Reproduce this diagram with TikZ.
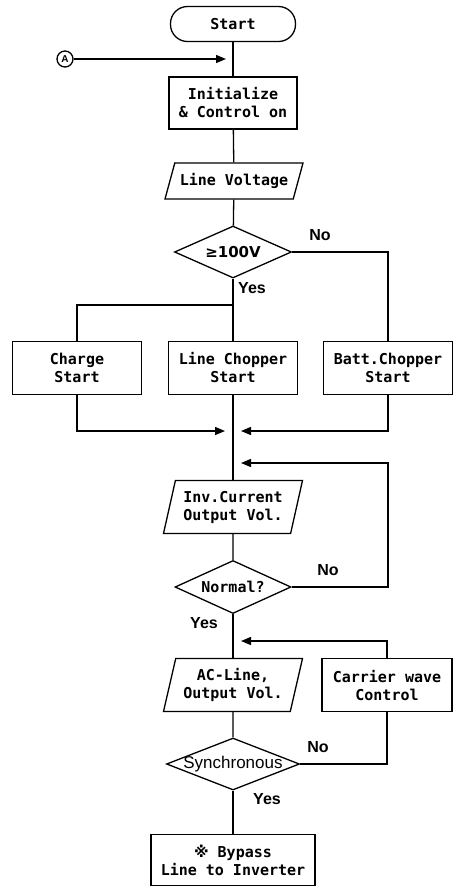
\documentclass[tikz,border=0pt]{standalone}
\usepackage{fontspec}
\setmainfont{DejaVu Sans Mono}
\newfontfamily\labelfont{Liberation Sans}
\newfontfamily\symbolfont{DejaVu Sans}
\usetikzlibrary{shapes.geometric, arrows.meta, calc}

\begin{document}
\begin{tikzpicture}[
    x=1pt, y=-1pt,
    font=\fontsize{15}{18}\selectfont\bfseries,
    line width=1.3pt,
    process/.style={draw, rectangle, minimum height=53pt, minimum width=129pt, align=center, inner sep=2pt},
    terminal/.style={draw, rectangle, rounded corners=17pt, minimum height=35pt, minimum width=125pt},
    io/.style={draw, trapezium, trapezium left angle=73, trapezium right angle=107, trapezium stretches body, minimum height=53pt, minimum width=139pt, inner xsep=0pt, align=center},
    decision/.style={draw, diamond, inner sep=0pt, minimum width=117pt, minimum height=52pt},
    yesno/.style={font=\labelfont\fontsize{16}{16}\selectfont\bfseries},
    arrow/.style={-{Triangle[length=10pt,width=8pt]}}
]
\useasboundingbox (0,0) rectangle (456,887);

% Nodes
\node (start) [terminal] at (233,24) {Start};
\node (A) [draw, circle, inner sep=0pt, minimum size=16pt, font=\labelfont\fontsize{10}{10}\selectfont\bfseries] at (65,59) {A};
\node (init) [process, minimum width=128pt, minimum height=52pt] at (233,103) {Initialize\\\& Control on};
\node (linevolt) [io, trapezium left angle=66, trapezium right angle=114, minimum height=36pt, minimum width=138pt] at (234,181) {Line Voltage};
\node (volt) [decision] at (233,252) {\makebox[0pt]{\symbolfont\bfseries ≥100V}};
\node (charge) [process] at (77,368) {Charge\\Start};
\node (linechop) [process] at (233,368) {Line Chopper\\Start};
\node (battchop) [process] at (388,368) {Batt.Chopper\\Start};
\node (invcur) [io] at (233,507) {Inv.Current\\Output Vol.};
\node (normal) [decision, minimum width=116pt, minimum height=53pt] at (233,587) {\makebox[0pt]{Normal?}};
\node (acline) [io] at (233,685) {AC-Line,\\Output Vol.};
\node (carrier) [process, minimum width=130pt] at (387,685) {Carrier wave\\Control};
\node (sync) [decision, minimum width=133pt] at (233,764) {\makebox[0pt]{\labelfont\fontsize{17}{17}\selectfont\mdseries Synchronous}};
\node (bypass) [process, minimum width=164pt, minimum height=51pt] at (233,860) {{\symbolfont\bfseries ※} Bypass\\Line to Inverter};

% Labels
\node (noVolt) [yesno] at (320,235) {No};
\node (yesVolt) [yesno] at (252,288) {Yes};
\node (noNormal) [yesno] at (328,570) {No};
\node (yesNormal) [yesno] at (204,623) {Yes};
\node (noSync) [yesno] at (318,747) {No};
\node (yesSync) [yesno] at (267,799) {Yes};

% Points on the main line
\coordinate (inA) at (226,59);
\coordinate (split) at (233,305);
\coordinate (mergeL) at (225,431);
\coordinate (mergeR) at (241,431);
\coordinate (turnN) at (388,463);
\coordinate (loopN) at (241,463);
\coordinate (loopC) at (241,641);

% Links
\draw (start) -- (init);
\draw[arrow] (A) -- (inA);
\draw (init) -- (linevolt);
\draw (linevolt) -- (volt);
\draw (volt) -- (linechop);
\draw (split) -| (charge);
\draw (volt.east) -| (battchop);
\draw[arrow] (charge) |- (mergeL);
\draw[arrow] (battchop) |- (mergeR);
\draw (linechop) -- (invcur);
\draw (invcur) -- (normal);
\draw[arrow] (normal.east) -| (turnN) -- (loopN);
\draw (normal) -- (acline);
\draw[arrow] (carrier) |- (loopC);
\draw (acline) -- (sync);
\draw (sync.east) -| (carrier);
\draw (sync) -- (bypass);

\end{tikzpicture}
\end{document}
